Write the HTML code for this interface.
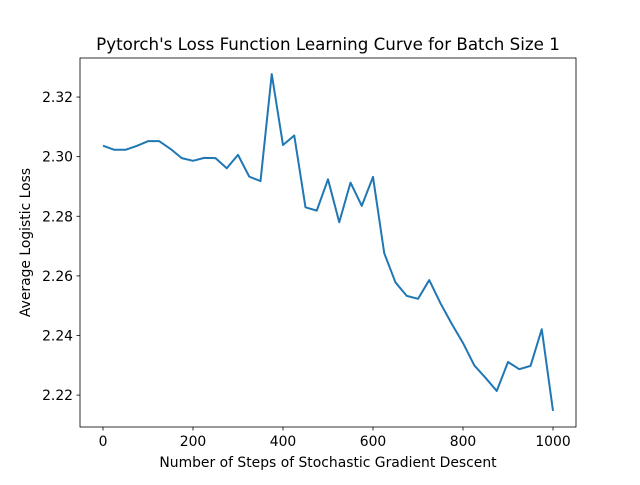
<!DOCTYPE html>
<html><head><meta charset="utf-8"><style>
body{margin:0;background:#fff;font-family:"Liberation Sans","DejaVu Sans",sans-serif}
svg text{font-family:"DejaVu Sans","Liberation Sans",sans-serif;fill:#000}
</style></head><body>
<svg id="chart" width="640" height="480">
<rect x="0" y="0" width="640" height="480" fill="#fff"/>
<g id="plot"></g>
</svg>
<script>
const steps=[0,25,50,75,100,125,150,175,200,225,250,275,300,325,350,375,400,425,450,475,500,525,550,575,600,625,650,675,700,725,750,775,800,825,850,875,900,925,950,975,1000];
const losses=[2.3037,2.3023,2.3023,2.3036,2.3052,2.3052,2.3026,2.2995,2.2986,2.2996,2.2995,2.2961,2.3006,2.2933,2.2918,2.3277,2.3039,2.3071,2.2830,2.2819,2.2924,2.2780,2.2913,2.2835,2.2932,2.2676,2.2578,2.2533,2.2523,2.2586,2.2508,2.2439,2.2375,2.2300,2.2258,2.2214,2.2311,2.2287,2.2298,2.2421,2.2147];
const xTicks=[0,200,400,600,800,1000];
const yTicks=[2.22,2.24,2.26,2.28,2.30,2.32];
const L=80,R=576,T=58,B=427;
const xMin=-51.1,xMax=1051.1,yMin=2.2093,yMax=2.3331;
const sx=v=>L+(v-xMin)/(xMax-xMin)*(R-L);
const sy=v=>B-(v-yMin)/(yMax-yMin)*(B-T);
const NS='http://www.w3.org/2000/svg';
const g=document.getElementById('plot');
function mk(t,a){const e=document.createElementNS(NS,t);for(const k in a)e.setAttribute(k,a[k]);g.appendChild(e);return e;}
const line=mk('polyline',{points:steps.map((s,i)=>sx(s)+','+sy(losses[i])).join(' '),fill:'none',stroke:'#1f77b4','stroke-width':2,'stroke-linejoin':'round'});


xTicks.forEach(v=>{const x=sx(v);
 const t=mk('line',{x1:x,x2:x,y1:B,y2:B+3.5,stroke:'#000','stroke-width':0.8});
 
 
 const l=mk('text',{x:x,y:B+19,'text-anchor':'middle','font-size':13.9});l.textContent=v;
 
 
});
yTicks.forEach(v=>{const y=sy(v);
 const t=mk('line',{x1:L-3.5,x2:L,y1:y,y2:y,stroke:'#000','stroke-width':0.8});
 
 
 const l=mk('text',{x:L-7,y:y+5,'text-anchor':'end','font-size':13.9});l.textContent=v.toFixed(2);
 
 
});
const fr=mk('rect',{x:L,y:T,width:R-L,height:B-T,fill:'none',stroke:'#000','stroke-width':0.8});


const ti=mk('text',{x:(L+R)/2,y:T-8,'text-anchor':'middle','font-size':16.7});ti.textContent="Pytorch's Loss Function Learning Curve for Batch Size 1";


const xl=mk('text',{x:(L+R)/2,y:467,'text-anchor':'middle','font-size':13.9});xl.textContent="Number of Steps of Stochastic Gradient Descent";


const yl=mk('text',{x:0,y:0,'text-anchor':'middle','font-size':13.9,transform:'translate(30,'+((T+B)/2)+') rotate(-90)'});yl.textContent="Average Logistic Loss";


</script>
</body></html>
